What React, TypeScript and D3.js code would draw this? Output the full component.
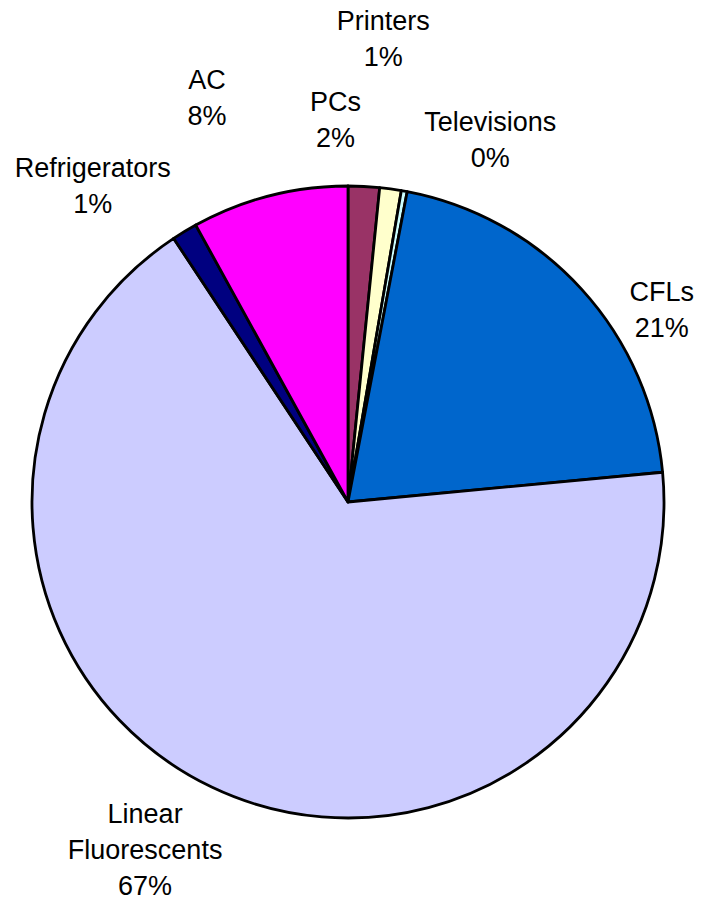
import * as d3 from "d3";

const categories = [
  "PCs",
  "Printers",
  "Televisions",
  "CFLs",
  "Linear Fluorescents",
  "Refrigerators",
  "AC",
];
const shares = [1.6, 1.1, 0.3, 20.5, 67.2, 1.3, 8.0];
const pctLabels = ["2%", "1%", "0%", "21%", "67%", "1%", "8%"];
const labelLines = [
  ["PCs"],
  ["Printers"],
  ["Televisions"],
  ["CFLs"],
  ["Linear", "Fluorescents"],
  ["Refrigerators"],
  ["AC"],
];
const colors = [
  "#993366",
  "#FFFFCC",
  "#CCFFFF",
  "#0066CC",
  "#CCCCFF",
  "#000080",
  "#FF00FF",
];

// label nudges away from the outer centroid (Excel places them by hand)
const nudges: [number, number][] = [
  [-31, -17],
  [-14, -101],
  [77, -2],
  [43, 54],
  [-45, 17],
  [-66, -3],
  [-50, -50],
];

const W = 702;
const H = 902;
const cx = 340;
const cy = 494;
const R = 316;
const lineH = 36;

type Slice = { c: string; v: number; i: number };

export default function App() {
  const data: Slice[] = categories.map((c, i) => ({ c, v: shares[i], i }));
  const pie = d3
    .pie<Slice>()
    .sort(null)
    .value((d) => d.v);
  const arcs = pie(data);
  const arc = d3.arc<d3.PieArcDatum<Slice>>().innerRadius(0).outerRadius(R);
  const labelArc = d3
    .arc<d3.PieArcDatum<Slice>>()
    .innerRadius(R + 50)
    .outerRadius(R + 50);

  return (
    <svg
      width={W}
      height={H}
      style={{ position: "absolute", left: 0, top: 0, background: "#fff" }}
      fontFamily="'Liberation Sans', Arial, sans-serif"
    >
      <g transform={`translate(${cx + 8},${cy + 8})`}>
        {arcs.map((a) => (
          <path
            key={a.data.c}
            d={arc(a) ?? ""}
            fill={colors[a.data.i]}
            stroke="#000"
            strokeWidth={2.8}
            strokeLinejoin="round"
          />
        ))}
        {arcs.map((a) => {
          const [lx, ly] = labelArc.centroid(a);
          const [nx, ny] = nudges[a.data.i];
          const lines = [...labelLines[a.data.i], pctLabels[a.data.i]];
          const x = lx + nx;
          const top = ly + ny - ((lines.length - 1) * lineH) / 2;
          return (
            <text
              key={"l" + a.data.c}
              x={x}
              textAnchor="middle"
              fontSize={27}
              fill="#000"
            >
              {lines.map((t, k) => (
                <tspan key={k} x={x} y={top + k * lineH} dy="0.35em">
                  {t}
                </tspan>
              ))}
            </text>
          );
        })}
      </g>
    </svg>
  );
}
